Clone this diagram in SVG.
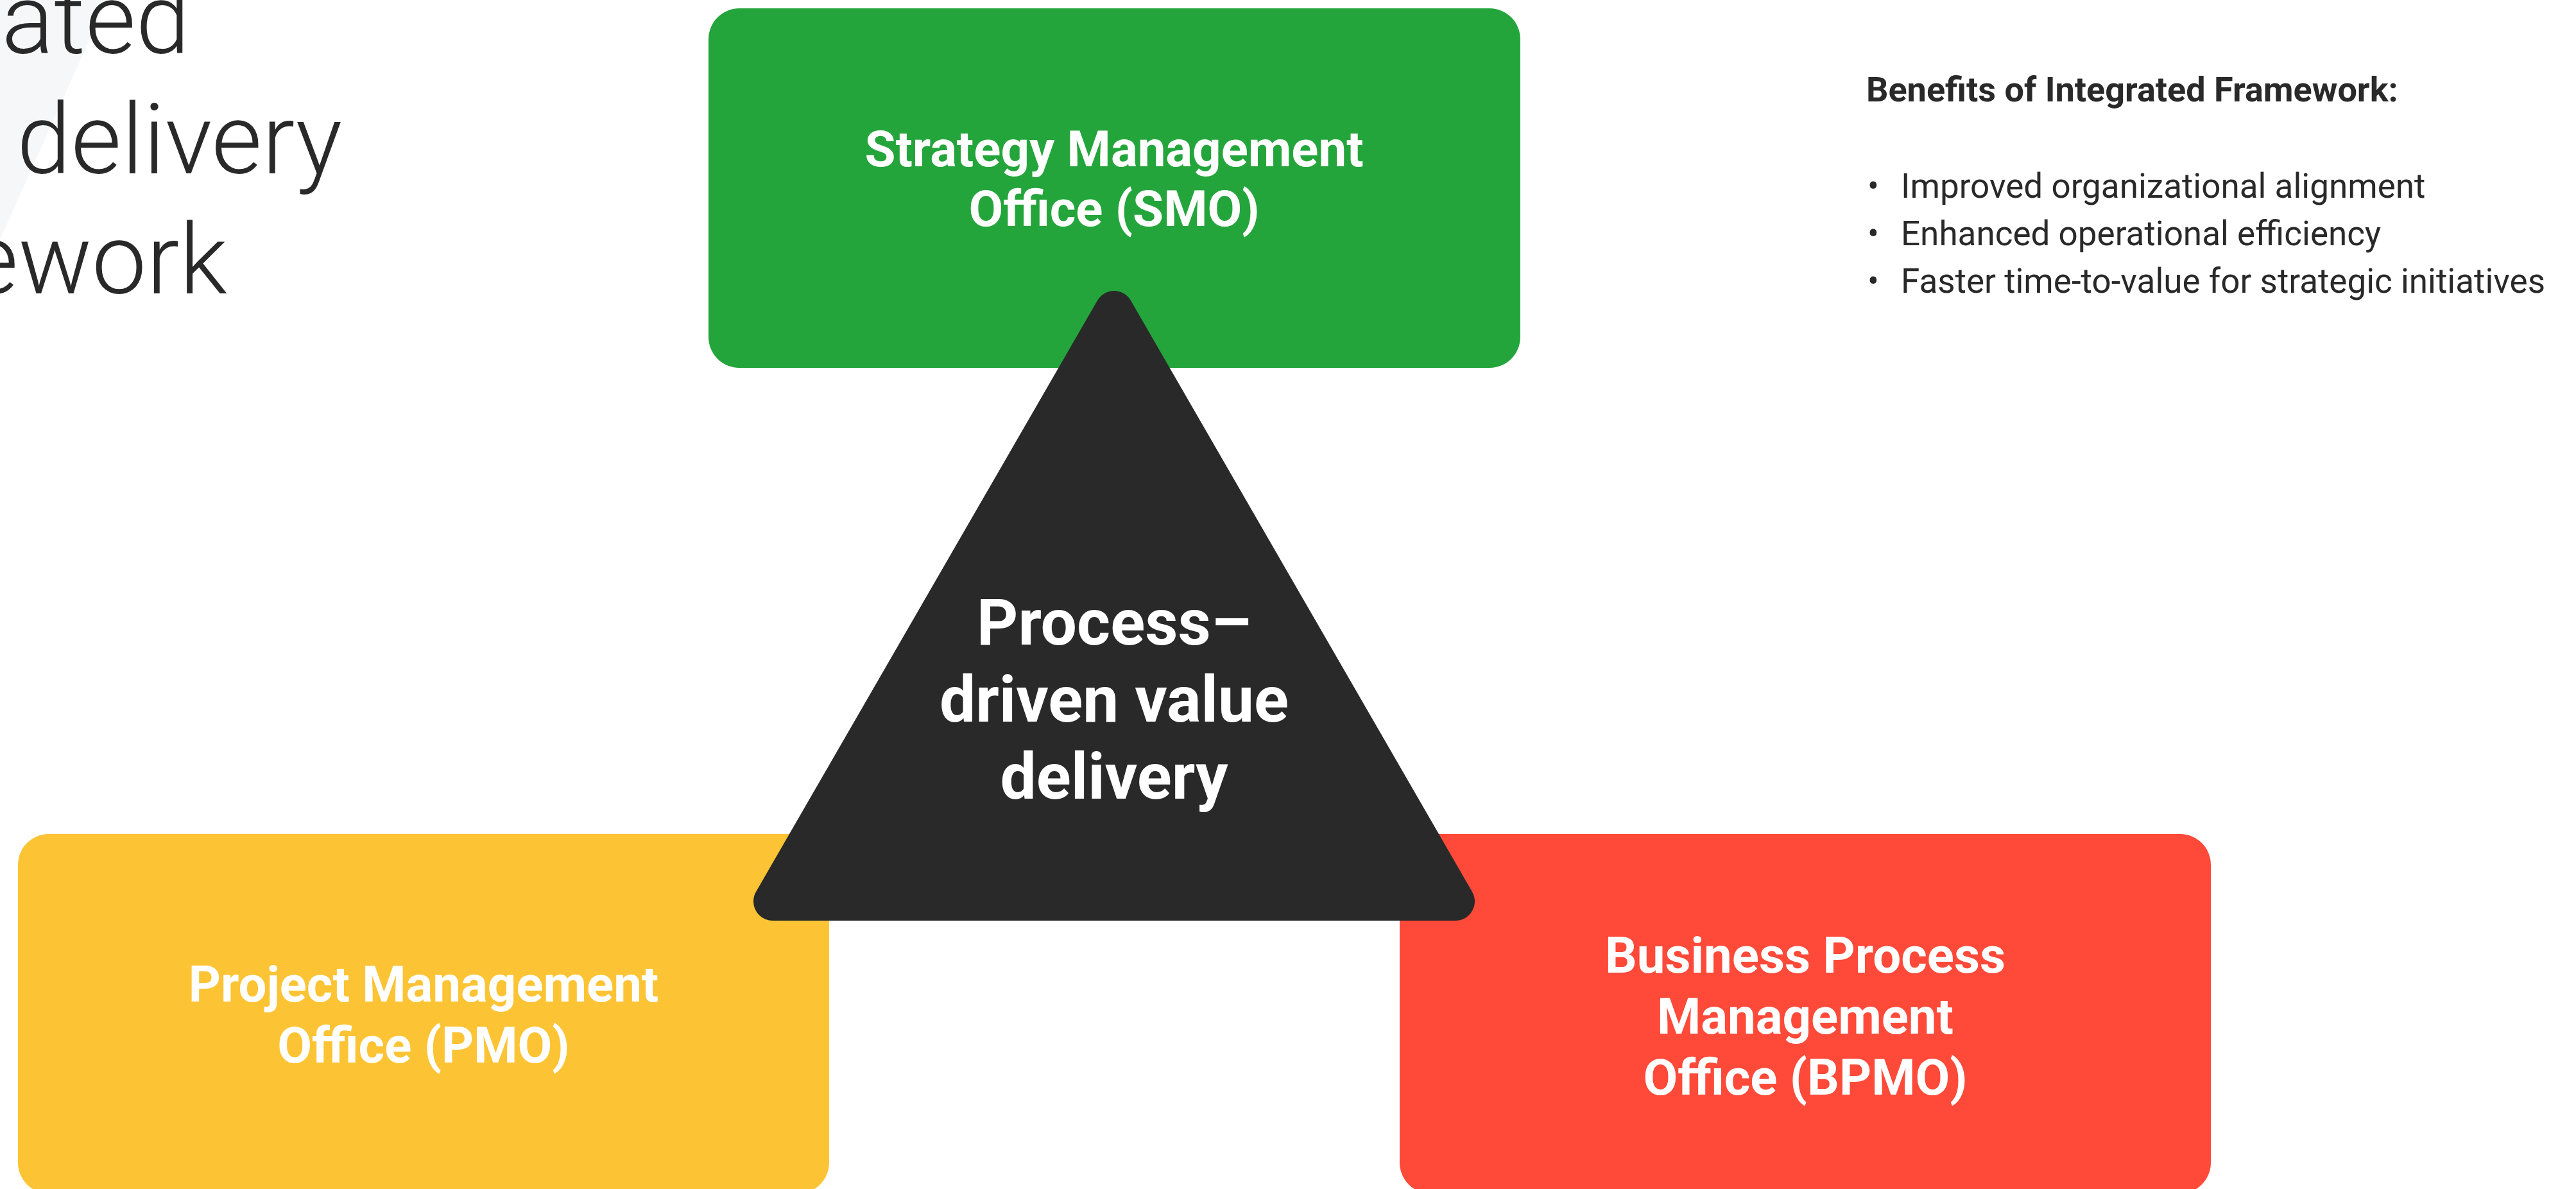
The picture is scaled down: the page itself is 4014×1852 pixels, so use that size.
<svg xmlns="http://www.w3.org/2000/svg" width="4014" height="1852" viewBox="0 0 4014 1852">
<defs>
<style>
.box-label{font-family:Roboto,"Liberation Sans",sans-serif;font-weight:700;font-size:78px;fill:#ffffff;text-anchor:middle}
.tri-label{font-family:Roboto,"Liberation Sans",sans-serif;font-weight:700;font-size:100px;fill:#ffffff;text-anchor:middle}
.title{font-family:Roboto,"Liberation Sans",sans-serif;font-weight:300;font-size:152px;fill:#292929;text-anchor:end}
.head{font-family:Roboto,"Liberation Sans",sans-serif;font-weight:700;font-size:54px;fill:#292929}
.body{font-family:Roboto,"Liberation Sans",sans-serif;font-weight:400;font-size:53px;fill:#292929}
</style>
</defs>
<rect x="0" y="0" width="4014" height="1852" fill="#ffffff"/>
<polygon points="0,0 167,0 0,373" fill="#f6f7f8"/>
<g id="title">
<text class="title" x="296" y="83">ated</text>
<text class="title" x="533" y="270">delivery</text>
<text class="title" x="354" y="457">ework</text>
</g>
<g id="smo">
<rect x="1104" y="13" width="1265" height="560" rx="48" fill="#24a53b"/>
<text class="box-label" x="1736" y="259">Strategy Management</text>
<text class="box-label" x="1736" y="352">Office (SMO)</text>
</g>
<g id="pmo">
<rect x="28" y="1299" width="1264" height="560" rx="48" fill="#fcc434"/>
<text class="box-label" x="660" y="1560">Project Management</text>
<text class="box-label" x="660" y="1655">Office (PMO)</text>
</g>
<g id="bpmo">
<rect x="2181" y="1299" width="1264" height="560" rx="48" fill="#ff4939"/>
<text class="box-label" x="2813" y="1515">Business Process</text>
<text class="box-label" x="2813" y="1610">Management</text>
<text class="box-label" x="2813" y="1705">Office (BPMO)</text>
</g>
<g id="connectors"></g>
<g id="core">
<polygon points="1736,483 2268,1404 1204,1404" fill="#292929" stroke="#292929" stroke-width="60" stroke-linejoin="round"/>
<text class="tri-label" x="1736" y="1004">Process–</text>
<text class="tri-label" x="1736" y="1124">driven value</text>
<text class="tri-label" x="1736" y="1244">delivery</text>
</g>
<g id="benefits">
<text class="head" x="2908" y="158">Benefits of Integrated Framework:</text>
<text class="body" x="2910" y="308">•</text>
<text class="body" x="2962" y="308">Improved organizational alignment</text>
<text class="body" x="2910" y="382">•</text>
<text class="body" x="2962" y="382">Enhanced operational efficiency</text>
<text class="body" x="2910" y="456">•</text>
<text class="body" x="2962" y="456">Faster time-to-value for strategic initiatives</text>
</g>
</svg>
